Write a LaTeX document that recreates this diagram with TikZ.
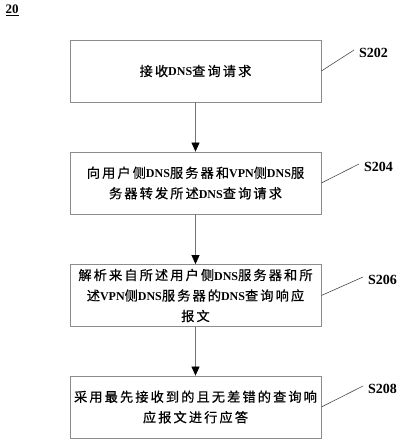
\documentclass[tikz,border=0pt]{standalone}
\usepackage{fontspec}
\setmainfont{Liberation Serif}
\newfontfamily\zhfont[LetterSpace=16,Scale=1.1,FakeBold=0.6]{Noto Sans CJK SC}
\newcommand{\zh}[1]{{\zhfont\mdseries #1}}
\usepackage{tikz}
\usetikzlibrary{arrows.meta}

\tikzset{
	stepbox/.style={draw=black!45, line width=0.8pt, minimum width=251pt, minimum height=62pt, align=center, font=\fontsize{12}{20.5}\selectfont\bfseries, inner sep=0pt},
	steplabel/.style={anchor=west, font=\fontsize{14}{14}\selectfont\bfseries, inner sep=0pt},
	leader/.style={draw=black!70, line width=0.6pt},
	flow/.style={draw=black!55, line width=0.7pt, -{Triangle[width=8pt,length=9pt,color=black]}}
}

\begin{document}
\begin{tikzpicture}[x=1pt,y=-1pt]
	\useasboundingbox (0,0) rectangle (403,443);
	\node[font=\fontsize{13}{13}\selectfont\bfseries, inner sep=0pt] (fig) at (12,10) {\underline{20}};
	% steps
	\node[stepbox] (s202) at (195.5,71) {\zh{接收}DNS\zh{查询请求}};
	\node[stepbox] (s204) at (195.5,183) {\zh{向用户侧}DNS\zh{服务器和}VPN\zh{侧}DNS\zh{服}\\\zh{务器转发所述}DNS\zh{查询请求}};
	\node[stepbox] (s206) at (195.5,295.5) {\zh{解析来自所述用户侧}DNS\zh{服务器和所}\\\zh{述}VPN\zh{侧}DNS\zh{服务器的}DNS\zh{查询响应}\\\zh{报文}};
	\node[stepbox] (s208) at (195.5,407) {\zh{采用最先接收到的且无差错的查询响}\\\zh{应报文进行应答}};
	% step numbers
	\node[steplabel] (l202) at (359,53) {S202};
	\node[steplabel] (l204) at (364,167) {S204};
	\node[steplabel] (l206) at (368,280) {S206};
	\node[steplabel] (l208) at (368,389) {S208};
	\draw[leader] (s202.east) -- ([xshift=-5pt,yshift=3pt]l202.west);
	\draw[leader] (s204.east) -- ([xshift=-5pt,yshift=3pt]l204.west);
	\draw[leader] (s206.east) -- ([xshift=-5pt,yshift=3pt]l206.west);
	\draw[leader] (s208.east) -- ([xshift=-5pt,yshift=3pt]l208.west);
	% flow
	\draw[flow] (s202) -- (s204);
	\draw[flow] (s204) -- (s206);
	\draw[flow] (s206) -- (s208);
\end{tikzpicture}
\end{document}
